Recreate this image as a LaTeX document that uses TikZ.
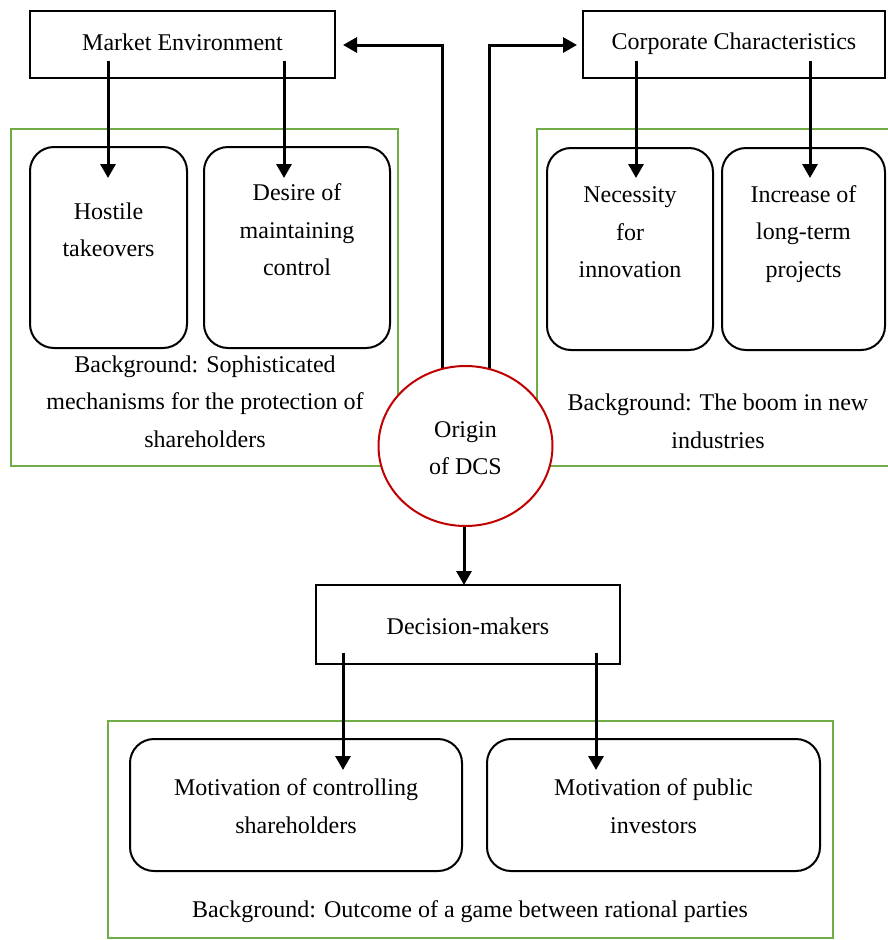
\documentclass[tikz,border=0pt]{standalone}
\usepackage{fontspec}
\setmainfont{Liberation Serif}
\usetikzlibrary{arrows.meta,positioning}
\definecolor{bggreen}{RGB}{112,173,71}
\definecolor{dcsred}{RGB}{192,0,0}
\tikzset{
  topbox/.style={draw=black, line width=2pt, rectangle, inner sep=0pt},
  roundbox/.style={draw=black, line width=2pt, rounded corners=24pt, inner sep=0pt},
  greenbox/.style={draw=bggreen, line width=2pt},
  txt/.style={align=center, font=\fontsize{24}{37.5}\selectfont, inner sep=0pt},
  arr/.style={line width=3pt, -{Triangle[length=14pt,width=15pt]}},
}
\begin{document}
\begin{tikzpicture}[x=1pt,y=-1pt]
\useasboundingbox (0,0) rectangle (887,940);
% green background frames
\draw[greenbox] (11,129) rectangle (398,466);
\draw[greenbox] (537,129) rectangle (900,466);
\draw[greenbox] (108,721) rectangle (833,938);
% top boxes
\draw[topbox] (30,11) rectangle (335,78);
\node[txt] (me) at (182.5,42) {Market Environment};
\draw[topbox] (583,11) rectangle (885,78);
\node[txt] (cc) at (734,44) {Corporate Characteristics};
% inner rounded boxes
\draw[roundbox] (30,147) rectangle (187,348);
\node[txt] (hostile) at (108.5,230) {Hostile\\takeovers};
\draw[roundbox] (204,147) rectangle (390,348);
\node[txt] (desire) at (297,230) {Desire of\\maintaining\\control};
\draw[roundbox] (547,148) rectangle (713,350);
\node[txt] (necessity) at (630,232.5) {Necessity\\for\\innovation};
\draw[roundbox] (722,148) rectangle (885,350);
\node[txt] (increase) at (803.5,234) {Increase of\\long-term\\projects};
% background texts
\node[txt] (bgleft) at (205,401.5) {Background: Sophisticated\\mechanisms for the protection of\\shareholders};
\node[txt] (bgright) at (718,421.5) {Background: The boom in new\\industries};
% decision makers
\draw[topbox] (316,585) rectangle (620,664);
\node[txt] (dm) at (468,626) {Decision-makers};
\draw[roundbox] (130,739) rectangle (462,871);
\node[txt] (mcs) at (296,806) {Motivation of controlling\\shareholders};
\draw[roundbox] (487,739) rectangle (820,871);
\node[txt] (mpi) at (653.5,806) {Motivation of public\\investors};
\node[txt] (bgbottom) at (470,912) {Background: Outcome of a game between rational parties};
% arrows
\draw[arr] (108,61) -- (108,178);
\draw[arr] (284,61) -- (284,178);
\draw[arr] (636,61) -- (636,178);
\draw[arr] (810,61) -- (810,178);
\draw[arr] (442,400) |- (343,45);
\draw[arr] (489,400) |- (577,45);
\draw[arr] (464,500) -- (464,585);
\draw[arr] (343,653) -- (343,770);
\draw[arr] (596,653) -- (596,770);
% origin circle
\draw[dcsred, line width=2pt, fill=white] (465.5,446) ellipse [x radius=87, y radius=80];
\node[txt] (origin) at (465.5,448) {Origin\\of DCS};
\end{tikzpicture}
\end{document}
